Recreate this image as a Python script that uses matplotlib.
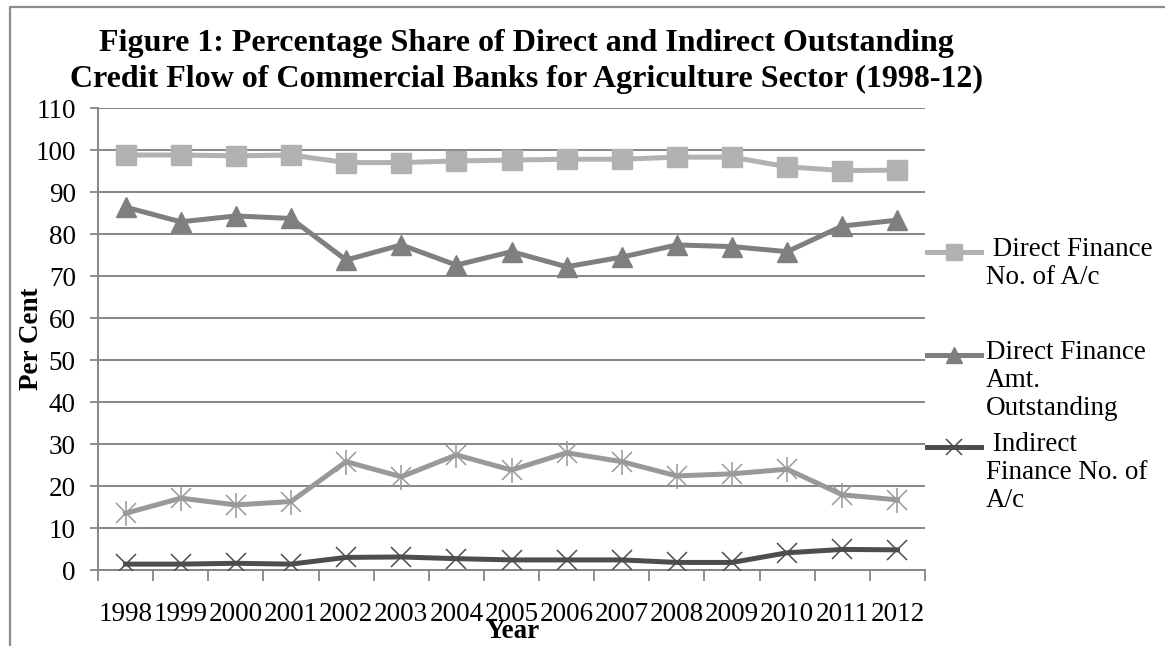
import matplotlib
matplotlib.use("Agg")
import matplotlib.pyplot as plt
from matplotlib.lines import Line2D
import numpy as np

plt.rcParams['font.family'] = ['Liberation Serif', 'DejaVu Serif']

years = ['1998', '1999', '2000', '2001', '2002', '2003', '2004', '2005',
         '2006', '2007', '2008', '2009', '2010', '2011', '2012']
direct_no = [98.8, 98.8, 98.6, 98.8, 97.0, 97.0, 97.4, 97.6, 97.8, 97.8, 98.3, 98.3, 96.0, 95.1, 95.2]
direct_amt = [86.4, 82.9, 84.3, 83.7, 73.8, 77.4, 72.6, 75.8, 72.2, 74.5, 77.4, 77.0, 75.8, 81.9, 83.3]
indirect_amt = [13.5, 17.1, 15.5, 16.3, 25.8, 22.2, 27.4, 23.8, 27.9, 25.8, 22.4, 22.9, 24.0, 17.9, 16.7]
indirect_no = [1.4, 1.4, 1.6, 1.4, 3.0, 3.1, 2.7, 2.4, 2.4, 2.4, 1.8, 1.8, 4.1, 4.9, 4.8]

legend_labels = [' Direct Finance\nNo. of A/c', 'Direct Finance\nAmt.\nOutstanding', ' Indirect\nFinance No. of\nA/c']

W, H = 1165, 646
fig = plt.figure(figsize=(W / 100, H / 100), dpi=100)
ax = fig.add_axes([98 / W, 1 - 570 / H, (925 - 98) / W, (570 - 108) / H])

x = np.arange(len(years))
c_sq, c_tri, c_star, c_x = '#b2b2b2', '#7f7f7f', '#999999', '#4d4d4d'
lw = 3.6
fs = 19.5
ax.plot(x, direct_no, color=c_sq, lw=lw, marker='s', ms=14, mec=c_sq, mfc=c_sq, zorder=3)
ax.plot(x, direct_amt, color=c_tri, lw=lw, marker='^', ms=15, mec=c_tri, mfc=c_tri, zorder=3)
ax.plot(x, indirect_amt, color=c_star, lw=lw, marker='x', ms=14, mec=c_star, mew=1.1, zorder=3)
ax.plot(x, indirect_amt, ls='none', marker='|', ms=18, mec=c_star, mew=1.1, zorder=3)
ax.plot(x, indirect_no, color=c_x, lw=lw, marker='x', ms=15, mec=c_x, mew=1.1, zorder=4)

ax.set_xlim(-0.5, len(years) - 0.5)
ax.set_ylim(0, 110)
ax.set_yticks(np.arange(0, 111, 10))
ax.set_xticks(x)
ax.set_xticklabels(years)
ax.set_xticks(np.arange(-0.5, len(years), 1), minor=True)
ax.tick_params(axis='x', which='major', length=0, labelsize=fs, pad=23)
ax.tick_params(axis='x', which='minor', length=8, width=1.3, color='#868686')
ax.tick_params(axis='y', length=6, width=1.3, color='#868686', labelsize=fs, pad=10)
ax.grid(axis='y', color='#868686', lw=1.4)
ax.set_axisbelow(True)
for s in ['top', 'right']:
    ax.spines[s].set_visible(False)
for s in ['left', 'bottom']:
    ax.spines[s].set_color('#868686')
    ax.spines[s].set_linewidth(1.4)

fig.text(526 / W, 1 - 43 / H, 'Figure 1: Percentage Share of Direct and Indirect Outstanding',
         ha='center', va='center', fontsize=23, fontweight='bold')
fig.text(526 / W, 1 - 79 / H, 'Credit Flow of Commercial Banks for Agriculture Sector (1998-12)',
         ha='center', va='center', fontsize=23, fontweight='bold')
fig.text(32 / W, 1 - 339 / H, 'Per Cent', rotation=90, ha='center', va='center',
         fontsize=fs, fontweight='bold')
fig.text(513 / W, 1 - 631 / H, 'Year', ha='center', va='center', fontsize=fs, fontweight='bold')

# legend (manual, handle aligned with first text line)
entries = [(252, c_sq, 's', 14, 1.0), (355, c_tri, '^', 15, 1.0), (447, c_x, 'x', 15, 1.1)]
for (yy, col, mk, ms, mew), lab in zip(entries, legend_labels):
    fy = 1 - yy / H
    fig.add_artist(Line2D([927 / W, 954 / W, 981 / W], [fy, fy, fy], color=col, lw=lw,
                          marker=mk, markevery=[1], ms=ms * 0.8, mfc=col, mec=col, mew=mew,
                          transform=fig.transFigure))
    fig.text(986 / W, 1 - (yy - 15) / H, lab, ha='left', va='top', fontsize=fs, linespacing=1.15)

# outer border
fig.add_artist(Line2D([10 / W, 10 / W, 1.0], [0, 1 - 7 / H, 1 - 7 / H], color='#8c8c8c', lw=1.6,
                      transform=fig.transFigure))

fig.savefig('out.png', dpi=100)
